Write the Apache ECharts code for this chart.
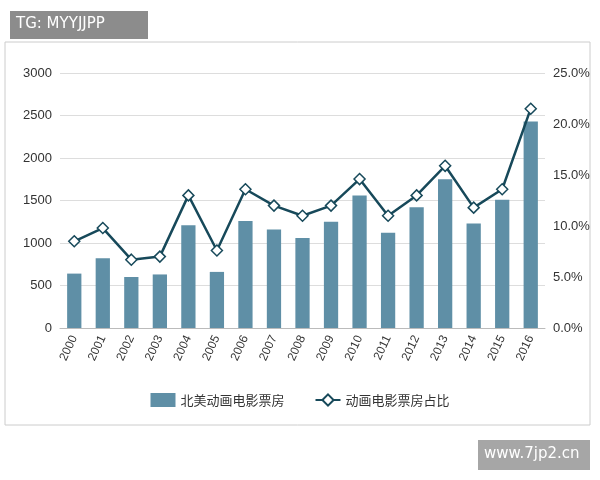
<!DOCTYPE html>
<html><head><meta charset="utf-8">
<script src="https://cdn.jsdelivr.net/npm/echarts@6/dist/echarts.min.js"></script>
<style>body{margin:0}#c{width:600px;height:480px}</style></head>
<body><div id="c"></div>
<script>
const years=['2000','2001','2002','2003','2004','2005','2006','2007','2008','2009','2010','2011','2012','2013','2014','2015','2016'];
const boxOffice=[640,820,600,630,1210,660,1260,1160,1060,1250,1560,1120,1420,1750,1230,1510,2430];
const share=[8.5,9.8,6.7,7.0,13.0,7.6,13.6,12.0,11.0,12.0,14.6,11.0,13.0,15.9,11.8,13.6,21.5];
const chart=echarts.init(document.getElementById('c'));
chart.setOption({
  animation:false,
  graphic:[
    {type:'rect',shape:{x:5,y:42,width:585,height:383},style:{fill:'#fff',stroke:'#ccc',lineWidth:1},z:-10},
    {type:'rect',shape:{x:10,y:11,width:138,height:28},style:{fill:'#8c8c8c'}},
    {type:'text',left:16,top:17,style:{text:'TG: MYYJJPP',fill:'#fff',font:'15px "DejaVu Sans"'}},
    {type:'rect',shape:{x:478,y:440,width:112,height:30},style:{fill:'#a6a6a6'}},
    {type:'text',left:484,top:447,style:{text:'www.7jp2.cn',fill:'#fff',font:'15px "DejaVu Sans"'}}
  ],
  grid:{left:60,right:55,top:73,bottom:152},
  legend:{bottom:68,itemGap:30,textStyle:{fontSize:13,color:'#333',fontFamily:'Noto Sans CJK SC'},
    data:[{name:'北美动画电影票房',icon:'rect'},{name:'动画电影票房占比'}]},
  xAxis:{type:'category',data:years,axisTick:{show:false},axisLine:{lineStyle:{color:'#bbb'}},
    axisLabel:{rotate:65,color:'#333',fontSize:12,interval:0}},
  yAxis:[
    {type:'value',min:0,max:3000,interval:500,axisLabel:{color:'#333',fontSize:13,formatter:v=>String(v)},splitLine:{lineStyle:{color:'#ddd'}}},
    {type:'value',min:0,max:25,interval:5,axisLabel:{color:'#333',fontSize:13,formatter:v=>v.toFixed(1)+'%'},splitLine:{show:false}}
  ],
  series:[
    {name:'北美动画电影票房',type:'bar',data:boxOffice,barWidth:'50%',itemStyle:{color:'#5f8fa6'}},
    {name:'动画电影票房占比',type:'line',yAxisIndex:1,data:share,symbol:'diamond',symbolSize:11,
      lineStyle:{color:'#17495a',width:2.5},itemStyle:{color:'#fff',borderColor:'#17495a',borderWidth:1.5}}
  ]
});
</script></body></html>
